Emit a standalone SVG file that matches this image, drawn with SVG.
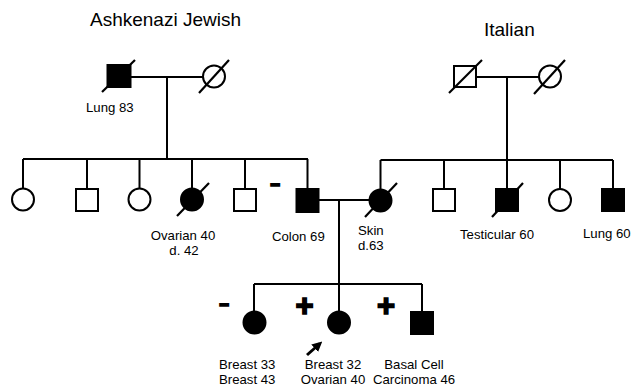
<svg xmlns="http://www.w3.org/2000/svg" width="636" height="392" viewBox="0 0 636 392">
<style>
.ln{stroke:#000;stroke-width:2;fill:none}
.sym{stroke:#000;stroke-width:2}
.open{fill:#fff}
.fill{fill:#000}
.sl{stroke:#000;stroke-width:2.2;fill:none}
text{font-family:"Liberation Sans",Arial,sans-serif;fill:#000}
.lab{font-size:13.2px}
.title{font-size:19px}
.sign{font-weight:bold;stroke:#000}
</style>
<defs>
<marker id="ah" viewBox="0 0 10 10" refX="7" refY="5" markerWidth="3.4" markerHeight="3.4" orient="auto">
<path d="M0,0 L10,5 L0,10 z" fill="#000"/>
</marker>
</defs>
<rect width="636" height="392" fill="#fff"/>
<text class="title" x="90" y="26">Ashkenazi Jewish</text>
<text class="title" x="484" y="36">Italian</text>
<g id="connectors">
<path class="ln" d="M131,77 H203 M167,77 V159 M23,159 H308 M23,159 V188 M87,159 V188 M139.5,159 V188 M192,159 V188 M245,159 V188 M307.5,159 V188"/>
<path class="ln" d="M476,77 H539 M507,77 V160 M380.5,160 H613 M380.5,160 V189 M444,160 V189 M507,160 V189 M560,160 V189 M613,160 V189"/>
<path class="ln" d="M319,200 H369 M339,200 V284 M254,284 H422 M254,284 V311 M339,284 V311 M422,284 V312"/>
</g>
<g id="aj-grandfather">
<rect class="sym fill" x="107.5" y="65" width="23" height="22"/>
<line class="sl" x1="102" y1="92" x2="135" y2="60"/>
<text class="lab" x="86" y="112">Lung 83</text>
</g>
<g id="aj-grandmother">
<circle class="sym open" cx="214" cy="76.5" r="11"/>
<line class="sl" x1="199" y1="93" x2="229" y2="60"/>
</g>
<g id="it-grandfather">
<rect class="sym open" x="454" y="66" width="22" height="21"/>
<line class="sl" x1="449" y1="93" x2="482" y2="60"/>
</g>
<g id="it-grandmother">
<circle class="sym open" cx="550" cy="76.5" r="11"/>
<line class="sl" x1="534" y1="94" x2="565" y2="60"/>
</g>
<g id="aj-1"><circle class="sym open" cx="23" cy="199.5" r="11"/></g>
<g id="aj-2"><rect class="sym open" x="76" y="189" width="22" height="22"/></g>
<g id="aj-3"><circle class="sym open" cx="139.5" cy="199.5" r="11"/></g>
<g id="aj-4">
<circle class="sym fill" cx="192" cy="199.5" r="11"/>
<line class="sl" x1="177" y1="216" x2="209" y2="183"/>
<text class="lab" x="183" y="240" text-anchor="middle">Ovarian 40</text>
<text class="lab" x="184" y="255" text-anchor="middle">d. 42</text>
</g>
<g id="aj-5"><rect class="sym open" x="234" y="189" width="22" height="22"/></g>
<g id="father">
<rect class="sym fill" x="296.5" y="189" width="22" height="23"/>
<text class="sign" x="275" y="189.5" font-size="16" stroke-width="2" text-anchor="middle">−</text>
<text class="lab" x="272" y="241">Colon 69</text>
</g>
<g id="mother">
<circle class="sym fill" cx="380.5" cy="200.5" r="11"/>
<line class="sl" x1="365" y1="217" x2="397" y2="183"/>
<text class="lab" x="358" y="235">Skin</text>
<text class="lab" x="358" y="250">d.63</text>
</g>
<g id="it-2"><rect class="sym open" x="433" y="189" width="22" height="22"/></g>
<g id="it-3">
<rect class="sym fill" x="496" y="189" width="22" height="22"/>
<line class="sl" x1="492" y1="217" x2="523" y2="183"/>
<text class="lab" x="460" y="239">Testicular 60</text>
</g>
<g id="it-4"><circle class="sym open" cx="560" cy="200" r="11"/></g>
<g id="it-5">
<rect class="sym fill" x="602" y="189" width="22" height="22"/>
<text class="lab" x="583" y="238">Lung 60</text>
</g>
<g id="child-1">
<circle class="sym fill" cx="254.5" cy="322.5" r="11"/>
<text class="sign" x="224" y="310" font-size="16" stroke-width="2" text-anchor="middle">−</text>
<text class="lab" x="219" y="369">Breast 33</text>
<text class="lab" x="219" y="384">Breast 43</text>
</g>
<g id="proband">
<circle class="sym fill" cx="339" cy="322.5" r="11"/>
<text class="sign" x="304.5" y="316" font-size="31" stroke-width="1.6" text-anchor="middle">+</text>
<line x1="307" y1="355" x2="320" y2="343.5" stroke="#000" stroke-width="3" marker-end="url(#ah)"/>
<text class="lab" x="333" y="369" text-anchor="middle">Breast 32</text>
<text class="lab" x="333" y="384" text-anchor="middle">Ovarian 40</text>
</g>
<g id="child-3">
<rect class="sym fill" x="411" y="312" width="22" height="22"/>
<text class="sign" x="386" y="316" font-size="31" stroke-width="1.6" text-anchor="middle">+</text>
<text class="lab" x="414" y="369" text-anchor="middle">Basal Cell</text>
<text class="lab" x="414" y="384" text-anchor="middle">Carcinoma 46</text>
</g>
</svg>
